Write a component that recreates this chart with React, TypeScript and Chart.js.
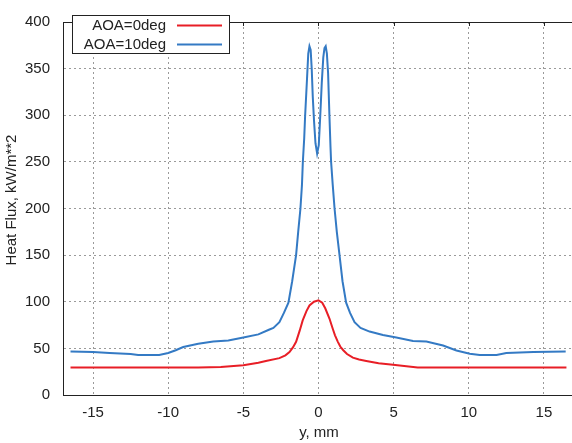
import React, { useEffect, useRef } from "react";
import { Chart, registerables } from "chart.js";

Chart.register(...registerables);

const redX = [-16.5, -12, -8, -6.5, -5, -4, -3.5, -2.6, -2.2, -1.93, -1.7, -1.49, -1.25, -1.05, -0.8, -0.6, -0.3, 0, 0.25, 0.45, 0.73, 0.95, 1.1, 1.29, 1.45, 1.65, 1.9, 2.29, 2.7, 3.18, 4, 4.96, 6, 6.6, 10, 16.5];
const redY = [29.5, 29.5, 29.5, 30, 32, 34.5, 36.5, 39.5, 42.5, 46, 51, 57, 69, 80, 90, 96, 100, 101.5, 99, 93, 82, 71, 64, 57, 52, 48, 44, 40, 38, 36.5, 34, 32.4, 30.5, 29.5, 29.5, 29.5];

const blueX = [-16.5, -15, -13.9, -12.5, -12, -10.6, -10, -9.5, -9, -8, -7, -6, -5, -4, -3.3, -3, -2.6, -2.3, -2.0, -1.75, -1.49, -1.35, -1.2, -1.1, -1.04, -0.95, -0.89, -0.76, -0.68, -0.6, -0.52, -0.45, -0.38, -0.3, -0.2, -0.09, 0.02, 0.12, 0.22, 0.32, 0.4, 0.48, 0.56, 0.64, 0.73, 0.8, 0.84, 0.95, 1.07, 1.22, 1.4, 1.6, 1.84, 2.1, 2.4, 2.8, 3.4, 4.29, 5.18, 6.29, 7.18, 8.29, 9.18, 10.07, 10.73, 11.85, 12.5, 14.3, 16.45];
const blueY = [46.7, 46, 45, 44, 42.8, 42.8, 45, 48, 51.5, 55, 57.4, 58.5, 61.6, 65, 70, 72, 78, 88, 99, 122, 150, 175, 200, 225, 250, 275, 299, 340, 366, 374, 370, 350, 320, 295, 270, 259, 268, 300, 335, 362, 372, 374, 366, 345, 299, 266, 250, 225, 200, 175, 150, 122, 99, 88, 78, 72, 68, 64.4, 61.6, 58, 57.4, 53, 47.7, 44.2, 42.8, 42.8, 45, 46, 46.7];

const xTicks = [-15, -10, -5, 0, 5, 10, 15];
const yTicks = [0, 50, 100, 150, 200, 250, 300, 350, 400];
const seriesNames = ["AOA=0deg", "AOA=10deg"];
const yTitle = "Heat Flux, kW/m**2";
const xTitle = "y, mm";

const RED = "rgb(232,30,38)";
const BLUE = "rgb(52,122,196)";
const FONT = "Liberation Sans, Arial, sans-serif";

export default function App() {
  const ref = useRef<HTMLCanvasElement>(null);
  useEffect(() => {
    document.body.style.margin = "0";
    const canvas = ref.current!;
    const overlay = {
      id: "overlay",
      afterDraw(chart: any) {
        const ctx = chart.ctx;
        const a = chart.chartArea;
        ctx.save();
        ctx.setLineDash([]);
        ctx.strokeStyle = "#222";
        ctx.lineWidth = 1;
        ctx.beginPath();
        ctx.moveTo(a.left, Math.round(a.top) + 0.5);
        ctx.lineTo(a.right, Math.round(a.top) + 0.5);
        ctx.stroke();
        const xs = chart.scales.x;
        ctx.beginPath();
        for (const t of xTicks) {
          const px = Math.round(xs.getPixelForValue(t)) + 0.5;
          ctx.moveTo(px, a.top);
          ctx.lineTo(px, a.top + 4);
        }
        ctx.stroke();
        // legend
        ctx.fillStyle = "#fff";
        ctx.fillRect(72.5, 15.5, 157, 38);
        ctx.strokeStyle = "#222";
        ctx.strokeRect(72.5, 15.5, 157, 38);
        ctx.font = "15px " + FONT;
        ctx.fillStyle = "#222";
        ctx.textAlign = "right";
        ctx.textBaseline = "middle";
        const cols = [RED, BLUE];
        const ys = [25.5, 44.5];
        for (let i = 0; i < 2; i++) {
          ctx.fillText(seriesNames[i], 166, ys[i]);
          ctx.strokeStyle = cols[i];
          ctx.lineWidth = 2;
          ctx.beginPath();
          ctx.moveTo(177, ys[i]);
          ctx.lineTo(222, ys[i]);
          ctx.stroke();
        }
        // axis titles
        ctx.fillStyle = "#222";
        ctx.textAlign = "center";
        ctx.textBaseline = "middle";
        ctx.fillText(xTitle, 319, 433);
        ctx.translate(12, 200);
        ctx.rotate(-Math.PI / 2);
        ctx.fillText(yTitle, 0, 0);
        ctx.restore();
      },
    };
    const chart = new Chart(canvas, {
      type: "line",
      data: {
        datasets: [
          {
            label: seriesNames[0],
            data: redX.map((x, i) => ({ x, y: redY[i] })),
            borderColor: RED,
            borderWidth: 2,
            pointRadius: 0,
            tension: 0,
          },
          {
            label: seriesNames[1],
            data: blueX.map((x, i) => ({ x, y: blueY[i] })),
            borderColor: BLUE,
            borderWidth: 2,
            pointRadius: 0,
            tension: 0,
          },
        ],
      },
      options: {
        animation: false,
        responsive: false,
        layout: { padding: { top: 12, right: 0, left: 0, bottom: 0 } },
        plugins: { legend: { display: false }, tooltip: { enabled: false } },
        scales: {
          x: {
            type: "linear",
            min: -17,
            max: 16.87,
            afterBuildTicks: (s: any) => {
              s.ticks = xTicks.map((v) => ({ value: v }));
            },
            afterFit: (s: any) => {
              s.height = 48;
            },
            grid: { color: "#9a9a9a", drawTicks: false, lineWidth: 1 },
            border: { color: "#222", width: 1, dash: [2, 3] },
            ticks: { padding: 9, color: "#222", font: { family: FONT, size: 15 }, maxRotation: 0 },
          },
          y: {
            min: 0,
            max: 400,
            afterBuildTicks: (s: any) => {
              s.ticks = yTicks.map((v) => ({ value: v }));
            },
            afterFit: (s: any) => {
              s.width = 63;
            },
            grid: { color: "#9a9a9a", drawTicks: false, lineWidth: 1 },
            border: { color: "#222", width: 1, dash: [2, 3] },
            ticks: { padding: 13, color: "#222", font: { family: FONT, size: 15 } },
          },
        },
      } as any,
      plugins: [overlay],
    });
    return () => chart.destroy();
  }, []);
  return <canvas ref={ref} width={572} height={443} style={{ display: "block" }} />;
}
